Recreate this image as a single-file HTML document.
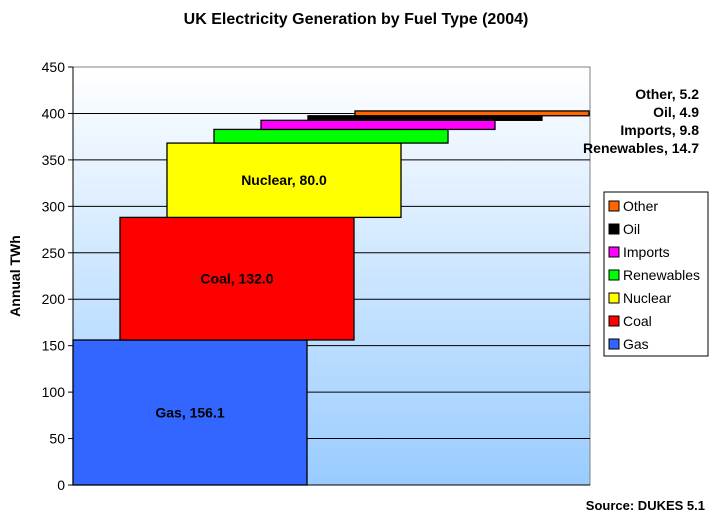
<!DOCTYPE html>
<html><head><meta charset="utf-8"><style>
body{margin:0;background:#fff;width:711px;height:519px;overflow:hidden;font-family:"Liberation Sans",Arial,sans-serif}
</style></head><body>
<svg width="711" height="519" xmlns="http://www.w3.org/2000/svg">
<defs><linearGradient id="bg" x1="0" y1="0" x2="0" y2="1"><stop offset="0" stop-color="#ffffff"/><stop offset="1" stop-color="#99ccff"/></linearGradient></defs>
<text x="356" y="24" text-anchor="middle" font-size="16" font-weight="bold">UK Electricity Generation by Fuel Type (2004)</text>
<rect x="73" y="67" width="517" height="418" fill="url(#bg)" stroke="#808080"/>
<g id="grid"></g>
<g id="bars"></g>
<g id="yaxis"></g>
<text transform="translate(20,276) rotate(-90)" text-anchor="middle" font-size="14" font-weight="bold">Annual TWh</text>
<g id="sidelabels"></g>
<rect x="604" y="192" width="104" height="164" fill="#fff" stroke="#000"/>
<g id="legend"></g>
<text x="705" y="510" text-anchor="end" font-size="13" font-weight="bold">Source: DUKES 5.1</text>
</svg>
<script>
const categories=["Gas","Coal","Nuclear","Renewables","Imports","Oil","Other"];
const values=[156.1,132.0,80.0,14.7,9.8,4.9,5.2];
const colors=["#3366ff","#ff0000","#ffff00","#00ff00","#ff00ff","#000000","#ff6600"];
const yTicks=[0,50,100,150,200,250,300,350,400,450];
const NS="http://www.w3.org/2000/svg";
const x0=73,x1=590,yb=485,yt=67,ymax=450;
const y=v=>yb-(v/ymax)*(yb-yt);
const bw=234,step=47;
function mk(t,a,p){const e=document.createElementNS(NS,t);for(const k in a)e.setAttribute(k,a[k]);p.appendChild(e);return e;}
const grid=document.getElementById('grid'),ya=document.getElementById('yaxis');
yTicks.forEach(v=>{
 if(v>0&&v<ymax){const l=mk('line',{x1:x0,x2:x1,y1:y(v),y2:y(v),stroke:'#000','stroke-width':1},grid);
 
 }
 const tk=mk('line',{x1:x0-5,x2:x0,y1:y(v),y2:y(v),stroke:'#000'},ya);
 
 
 const t=mk('text',{x:x0-8,y:y(v)+5,'text-anchor':'end','font-size':14},ya);t.textContent=v;
 
 
});
mk('line',{x1:x0,x2:x0,y1:yt,y2:yb,stroke:'#000'},ya);
mk('line',{x1:x0,x2:x1,y1:yb,y2:yb,stroke:'#000'},ya);
const bars=document.getElementById('bars');let cum=0;
categories.forEach((c,i)=>{
 const lo=cum,hi=cum+values[i];cum=hi;
 const bx=x0+i*step,w=Math.min(bw,x1-bx);
 const r=mk('rect',{x:bx,y:y(hi),width:w,height:y(lo)-y(hi),fill:colors[i],stroke:'#000','stroke-width':1.3},bars);
 
 
 if(i<3){const t=mk('text',{x:bx+bw/2,y:(y(lo)+y(hi))/2+5,'text-anchor':'middle','font-size':14,'font-weight':'bold'},bars);
 t.textContent=c+', '+values[i].toFixed(1);
 
 }
});
const sl=document.getElementById('sidelabels');
[6,5,4,3].forEach((i,k)=>{const t=mk('text',{x:699,y:99+k*18,'text-anchor':'end','font-size':14,'font-weight':'bold'},sl);
 t.textContent=categories[i]+', '+values[i].toFixed(1);
 
 });
const lg=document.getElementById('legend');
for(let i=categories.length-1,k=0;i>=0;i--,k++){
 const yy=207+k*23;
 const s=mk('rect',{x:609,y:yy-6,width:10,height:10,fill:colors[i],stroke:'#000'},lg);
 
 
 const t=mk('text',{x:623,y:yy+4,'font-size':14},lg);t.textContent=categories[i];
 
 
}
</script>
</body></html>
